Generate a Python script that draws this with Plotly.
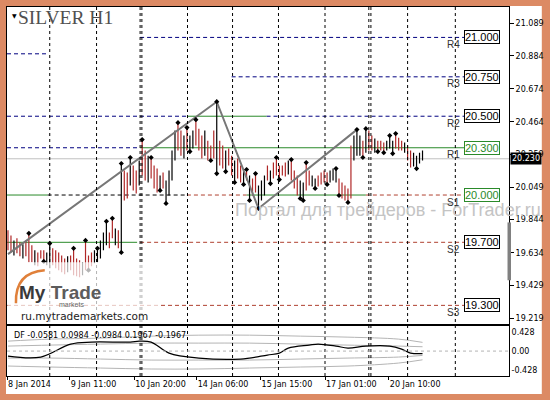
import plotly.graph_objects as go
from plotly.subplots import make_subplots

# ---------------- data ----------------
bar_high = [19.776, 19.744, 19.712, 19.725, 19.700, 19.687, 19.712, 19.757, 19.681, 19.649,
            19.636, 19.649, 19.649, 19.636, 19.693, 19.662, 19.649, 19.636, 19.617, 19.598,
            19.611, 19.617, 19.662, 19.598, 19.586, 19.573, 19.712, 19.617, 19.636, 19.649,
            19.662, 19.712, 19.763, 19.833, 19.763, 19.852, 19.788, 19.776, 20.200, 20.155,
            20.143, 20.238, 20.187, 20.155, 20.219, 20.352, 20.282, 20.250, 20.238, 20.187,
            20.168, 20.124, 20.143, 20.092, 20.155, 20.282, 20.409, 20.459, 20.409, 20.377,
            20.428, 20.377, 20.409, 20.478, 20.421, 20.377, 20.409, 20.345, 20.314, 20.409,
            20.592, 20.345, 20.314, 20.282, 20.295, 20.250, 20.219, 20.231, 20.187, 20.155,
            20.162, 20.124, 20.105, 20.136, 20.061, 20.092, 20.124, 20.187, 20.155, 20.206,
            20.238, 20.187, 20.187, 20.206, 20.219, 20.225, 20.155, 20.124, 20.092, 20.080,
            20.206, 20.155, 20.124, 20.105, 20.124, 20.143, 20.155, 20.143, 20.155, 20.168,
            20.168, 20.105, 20.080, 20.061, 20.042, 20.314, 20.377, 20.415, 20.377, 20.345,
            20.421, 20.409, 20.377, 20.358, 20.345, 20.345, 20.333, 20.345, 20.377, 20.345,
            20.390, 20.364, 20.345, 20.333, 20.314, 20.282, 20.269, 20.250, 20.269, 20.282]
bar_low = [19.649, 19.636, 19.617, 19.630, 19.611, 19.598, 19.611, 19.573, 19.573, 19.554,
           19.548, 19.598, 19.579, 19.554, 19.535, 19.554, 19.535, 19.523, 19.510, 19.497,
           19.510, 19.523, 19.491, 19.485, 19.478, 19.491, 19.523, 19.523, 19.548, 19.567,
           19.573, 19.598, 19.649, 19.681, 19.662, 19.725, 19.681, 19.662, 19.636, 19.966,
           19.978, 20.061, 20.029, 20.010, 20.061, 20.124, 20.092, 20.080, 20.105, 20.042,
           20.016, 20.029, 20.042, 19.947, 19.997, 20.092, 20.219, 20.282, 20.250, 20.231,
           20.282, 20.276, 20.295, 20.314, 20.282, 20.231, 20.250, 20.219, 20.219, 20.231,
           20.136, 20.187, 20.168, 20.149, 20.187, 20.124, 20.080, 20.105, 20.080, 20.067,
           20.092, 19.966, 19.997, 20.016, 19.915, 19.966, 19.997, 20.092, 20.073, 20.105,
           20.124, 20.098, 20.124, 20.117, 20.130, 20.092, 20.042, 19.997, 19.978, 19.966,
           20.029, 20.061, 20.054, 20.042, 20.054, 20.067, 20.080, 20.067, 20.080, 20.092,
           20.080, 19.997, 19.978, 19.966, 19.953, 19.978, 20.219, 20.250, 20.250, 20.238,
           20.269, 20.282, 20.282, 20.269, 20.276, 20.282, 20.269, 20.282, 20.295, 20.263,
           20.295, 20.282, 20.282, 20.269, 20.219, 20.174, 20.181, 20.168, 20.200, 20.219]
# u = bullish bar, d = bearish bar
bar_dir = ("ddudduddduddduudddddudddduddduuuuuddudud"
           "duddudduddduduuuudduduuddduddduddudduddu"
           "dudduuududdddduddduudduudddduuuddddduuud"
           "udduddduuuddduddu")[:140]
bar_dir = bar_dir.ljust(140, "u")
last_price = 20.230

up_fractals = [7, 14, 22, 26, 30, 33, 35, 38, 41, 45, 48, 57, 60, 63, 70, 80, 83, 90,
               95, 100, 110, 117, 120, 128, 130]
down_fractals = [12, 27, 38, 51, 53, 61, 68, 70, 73, 76, 79, 81, 84, 88, 91, 98, 99,
                 103, 107, 111, 114, 119, 124, 126, 129, 137]

zz_idx = [0, 70, 84, 117]
zz_price = [19.625, 20.592, 19.915, 20.415]

pivot_names = ["R4", "R3", "R2", "R1", "S1", "S2", "S3"]
pivot_values = [21.000, 20.750, 20.500, 20.300, 20.000, 19.700, 19.300]
pivot_labels = ["21.000", "20.750", "20.500", "20.300", "20.000", "19.700", "19.300"]

# pivot segments: (level, first bar, last bar)
seg_navy = [(20.896, -0.33, 13.3), (21.000, 44.3, 153), (20.750, 75, 153),
            (20.500, -0.33, 60), (20.500, 86.7, 153), (20.300, -0.33, 44.3)]
seg_green = [(20.500, 60, 86.7), (20.300, 44.3, 153), (20.000, -0.33, 13.3),
             (20.000, 80, 120), (19.700, -0.33, 43.3)]
seg_black = [(20.000, 13.3, 60)]
seg_red = [(20.000, 60, 80), (20.000, 120, 153), (19.700, 44.3, 153), (19.300, -0.33, 153)]

day_breaks = [14, 29.7, 44.3, 44.9, 60.2, 75.3, 90.7, 106.3, 121, 121.7, 134, 150]

time_idx = [-0.3, 20.7, 42.3, 63.3, 84.7, 106.3, 127.7]
time_labels = ["8 Jan 2014", "9 Jan 11:00", "10 Jan 20:00", "14 Jan 06:00",
               "15 Jan 15:00", "17 Jan 01:00", "20 Jan 10:00"]

price_ticks = [21.089, 20.884, 20.674, 20.464, 20.259, 20.049, 19.844, 19.634, 19.429, 19.219]

df_idx = [0, 11, 21, 28, 41, 44, 48, 54, 64, 78, 87, 91, 94, 101, 104, 110, 114, 120,
          128, 132, 135, 139]
df_vals = [-0.113, -0.135, 0.158, 0.203, 0.203, 0.225, 0.203, -0.045, -0.158, -0.180,
           -0.090, -0.045, 0.068, 0.135, 0.158, 0.113, 0.068, 0.113, 0.113, 0.045,
           -0.045, -0.058]
band_idx = [0, 14, 31, 48, 64, 81, 98, 114, 131, 139]
band_up2 = [0.225, 0.270, 0.293, 0.338, 0.360, 0.360, 0.338, 0.315, 0.270, 0.197]
band_up1 = [0.113, 0.135, 0.158, 0.180, 0.180, 0.180, 0.158, 0.135, 0.113, 0.098]
band_lo1 = [-0.158, -0.158, -0.180, -0.203, -0.203, -0.203, -0.180, -0.158, -0.135, -0.098]
band_lo2 = [-0.338, -0.360, -0.383, -0.405, -0.405, -0.383, -0.360, -0.338, -0.270, -0.197]
df_text = "DF -0.0581 0.0984 -0.0984 0.1967 -0.1967"

# ---------------- layout helpers ----------------
W, H = 550, 400
ML, MR, MT, MB = 6, 39, 6, 24


def px(x):
    return (x - ML) / (W - ML - MR)


def py(y):
    return (H - MB - y) / (H - MT - MB)


fig = make_subplots(rows=2, cols=1, shared_xaxes=True, vertical_spacing=0.01)

# pivot segments (drawn under the bars)
def seg_trace(segs, color, dash):
    xs, ys = [], []
    for lvl, a, b in segs:
        xs += [a, b, None]
        ys += [lvl, lvl, None]
    return go.Scatter(x=xs, y=ys, mode="lines", hoverinfo="skip",
                      line=dict(color=color, width=1, dash=dash), showlegend=False)


fig.add_trace(seg_trace(seg_navy, "#000080", "4px,3px"), row=1, col=1)
fig.add_trace(seg_trace(seg_green, "#2a8a2a", "solid"), row=1, col=1)
fig.add_trace(seg_trace(seg_black, "#000000", "4px,3px"), row=1, col=1)
fig.add_trace(seg_trace(seg_red, "#b04030", "4px,3px"), row=1, col=1)

# price bars
ux, uy, dx, dy = [], [], [], []
for i, (h, l, d) in enumerate(zip(bar_high, bar_low, bar_dir)):
    if d == "u":
        ux += [i, i, None]
        uy += [l, h, None]
    else:
        dx += [i, i, None]
        dy += [l, h, None]
fig.add_trace(go.Scatter(x=dx, y=dy, mode="lines", line=dict(color="#b02828", width=1.2),
                         showlegend=False), row=1, col=1)
fig.add_trace(go.Scatter(x=ux, y=uy, mode="lines", line=dict(color="#000000", width=1.2),
                         showlegend=False), row=1, col=1)

# zigzag
fig.add_trace(go.Scatter(x=zz_idx, y=zz_price, mode="lines",
                         line=dict(color="#777777", width=2), showlegend=False), row=1, col=1)

# fractals
fig.add_trace(go.Scatter(x=up_fractals, y=[bar_high[i] for i in up_fractals], mode="markers",
                         marker=dict(symbol="diamond", size=4, color="black"),
                         showlegend=False), row=1, col=1)
fig.add_trace(go.Scatter(x=down_fractals, y=[bar_low[i] for i in down_fractals], mode="markers",
                         marker=dict(symbol="diamond", size=4, color="black"),
                         showlegend=False), row=1, col=1)

# DF indicator
for band in (band_up2, band_up1, band_lo1, band_lo2):
    fig.add_trace(go.Scatter(x=band_idx, y=band, mode="lines", line=dict(color="#b4b4b4", width=1,
                             shape="spline"), showlegend=False), row=2, col=1)
fig.add_trace(go.Scatter(x=df_idx, y=df_vals, mode="lines",
                         line=dict(color="black", width=1.2, shape="spline"),
                         showlegend=False), row=2, col=1)

# ---------------- axes ----------------
xr = [-0.33, 168]
ax_common = dict(showgrid=False, zeroline=False, showline=True, linecolor="black",
                 linewidth=1, mirror=True)
fig.update_xaxes(range=xr, showticklabels=False, ticks="", **ax_common, row=1, col=1)
fig.update_xaxes(range=xr, tickvals=time_idx, ticktext=time_labels, ticks="outside",
                 ticklen=3, tickcolor="black", ticklabelposition="outside right",
                 tickfont=dict(family="DejaVu Sans", size=8, color="black"),
                 **ax_common, row=2, col=1)
fig.update_yaxes(side="right", range=[19.184, 21.193], tickvals=price_ticks,
                 ticktext=[f"{v:.3f}" for v in price_ticks], ticks="outside", ticklen=4,
                 tickcolor="black", tickfont=dict(family="DejaVu Sans", size=8, color="black"),
                 **ax_common, row=1, col=1)
fig.update_yaxes(side="right", range=[-0.563, 0.575], tickvals=[0.428, 0, -0.428],
                 ticktext=["0.428", "0.00", "-0.428"], ticks="",
                 tickfont=dict(family="DejaVu Sans", size=8, color="black"),
                 **ax_common, row=2, col=1)
fig.layout.yaxis.domain = [py(323.5), 1.0]
fig.layout.yaxis2.domain = [0.0, py(325.5)]

shapes = []
# white canvas inside orange frame
shapes.append(dict(type="rect", xref="paper", yref="paper", layer="below",
                   x0=px(5), x1=px(544), y0=py(394), y1=py(5),
                   fillcolor="white", line=dict(width=0)))
# period separators
for d in day_breaks:
    shapes.append(dict(type="line", xref="x", yref="paper", x0=d, x1=d, y0=0, y1=1,
                       line=dict(color="black", width=1, dash="3px,3px")))
# current price line
shapes.append(dict(type="line", xref="x domain", yref="y", x0=0, x1=1,
                   y0=last_price, y1=last_price, layer="below",
                   line=dict(color="#c0c0c0", width=1)))
# zero line of indicator
shapes.append(dict(type="line", xref="x2 domain", yref="y2", x0=0, x1=1, y0=0, y1=0,
                   line=dict(color="#b4b4b4", width=1, dash="3px,3px")))
# faded logo area
shapes.append(dict(type="rect", xref="paper", yref="paper", x0=px(6.5), x1=px(158),
                   y0=py(323), y1=py(262), fillcolor="rgba(255,255,255,0.7)",
                   line=dict(width=0)))
# logo arc
shapes.append(dict(type="path", xref="paper", yref="paper",
                   path=f"M {px(15)},{py(303)} Q {px(14)},{py(272)} {px(44)},{py(270)}",
                   line=dict(color="#e0803a", width=2.5)))
# scroll marker on right border
shapes.append(dict(type="rect", xref="paper", yref="paper", x0=px(509.5), x1=px(513),
                   y0=py(280), y1=py(222), fillcolor="#808080", line=dict(width=0)))

ann = []
ann.append(dict(text="SILVER H1", xref="paper", yref="paper", x=px(15), y=py(17),
                xanchor="left", yanchor="middle", showarrow=False,
                font=dict(family="Liberation Serif", size=19.5, color="#505050")))
ann.append(dict(text="▼", xref="paper", yref="paper", x=px(13.5), y=py(14.5),
                xanchor="center", yanchor="middle", showarrow=False,
                font=dict(family="DejaVu Sans", size=6, color="black")))
ann.append(dict(text=df_text, xref="paper", yref="paper", x=px(11), y=py(335),
                xanchor="left", yanchor="middle", showarrow=False,
                font=dict(family="DejaVu Sans", size=8, color="black")))
ann.append(dict(text="Портал для трейдеров - ForTrader.ru", xref="paper", yref="paper",
                x=px(233), y=py(210), xanchor="left", yanchor="middle", showarrow=False,
                font=dict(family="Liberation Sans", size=18, color="#c4c4c4")))
ann.append(dict(text="<b><span style='color:#3a3a3a'>My</span> Trade</b>", xref="paper",
                yref="paper", x=px(16), y=py(292), xanchor="left", yanchor="middle",
                showarrow=False, font=dict(family="Liberation Sans", size=19, color="#5c5c5c")))
ann.append(dict(text="markets", xref="paper", yref="paper", x=px(56), y=py(304),
                xanchor="left", yanchor="middle", showarrow=False,
                font=dict(family="Liberation Sans", size=7, color="#666666")))
ann.append(dict(text="ru.mytrademarkets.com", xref="paper", yref="paper", x=px(18), y=py(316),
                xanchor="left", yanchor="middle", showarrow=False,
                font=dict(family="DejaVu Sans", size=10.5, color="#222222")))
for name, val, lab in zip(pivot_names, pivot_values, pivot_labels):
    col = "#2a8a2a" if name in ("R1", "S1") else "black"
    ann.append(dict(text=lab, xref="x", yref="y", x=153, y=val, xanchor="left",
                    yanchor="middle", showarrow=False, bgcolor="white", bordercolor=col,
                    borderwidth=1, borderpad=0,
                    font=dict(family="Liberation Sans", size=11, color=col)))
    ann.append(dict(text=name, xref="x", yref="y", x=146.7, y=val, yshift=-7,
                    xanchor="left", yanchor="middle", showarrow=False,
                    font=dict(family="Liberation Sans", size=10, color="#333333")))
ann.append(dict(text=f"{last_price:.3f}", xref="paper", yref="y", x=1, y=last_price,
                xanchor="left", yanchor="middle", xshift=1, showarrow=False,
                bgcolor="black", borderpad=1,
                font=dict(family="DejaVu Sans", size=8, color="white")))

fig.update_layout(width=W, height=H, margin=dict(l=ML, r=MR, t=MT, b=MB),
                  paper_bgcolor="#dc8a64", plot_bgcolor="white", showlegend=False,
                  shapes=shapes, annotations=ann)

# page margin off so the 550x400 figure fills the window exactly
fig.write_html("out.html", config={"displayModeBar": False},
               post_script="document.body.style.margin='0';")
